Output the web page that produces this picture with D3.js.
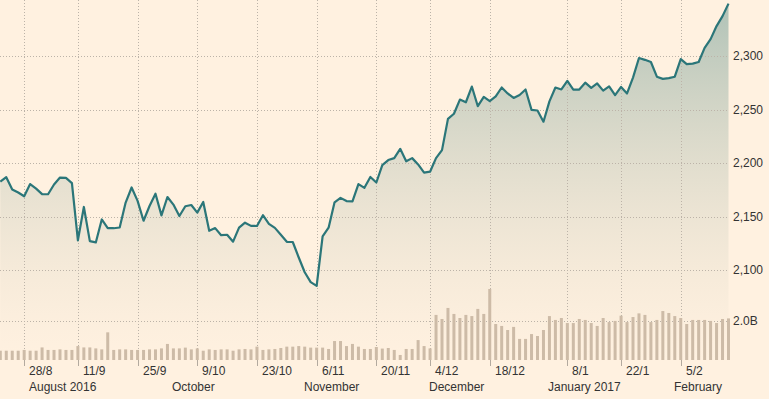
<!DOCTYPE html>
<html>
<head>
<meta charset="utf-8">
<script src="https://cdn.jsdelivr.net/npm/d3@7"></script>
<style>
  html, body { margin: 0; padding: 0; background: #fff1e0; }
  svg { display: block; font-family: Arial, "Liberation Sans", sans-serif; }
</style>
</head>
<body>
<svg id="chart" width="769" height="399"></svg>
<script>
// trading days shown on the chart
var dates = [
  "2016-08-22","2016-08-23","2016-08-24","2016-08-25","2016-08-26","2016-08-29","2016-08-30","2016-08-31",
  "2016-09-01","2016-09-02","2016-09-06","2016-09-07","2016-09-08","2016-09-09","2016-09-12","2016-09-13","2016-09-14","2016-09-15","2016-09-16","2016-09-19","2016-09-20","2016-09-21","2016-09-22","2016-09-23","2016-09-26","2016-09-27","2016-09-28","2016-09-29","2016-09-30",
  "2016-10-03","2016-10-04","2016-10-05","2016-10-06","2016-10-07","2016-10-10","2016-10-11","2016-10-12","2016-10-13","2016-10-14","2016-10-17","2016-10-18","2016-10-19","2016-10-20","2016-10-21","2016-10-24","2016-10-25","2016-10-26","2016-10-27","2016-10-28","2016-10-31",
  "2016-11-01","2016-11-02","2016-11-03","2016-11-04","2016-11-07","2016-11-08","2016-11-09","2016-11-10","2016-11-11","2016-11-14","2016-11-15","2016-11-16","2016-11-17","2016-11-18","2016-11-21","2016-11-22","2016-11-23","2016-11-25","2016-11-28","2016-11-29","2016-11-30",
  "2016-12-01","2016-12-02","2016-12-05","2016-12-06","2016-12-07","2016-12-08","2016-12-09","2016-12-12","2016-12-13","2016-12-14","2016-12-15","2016-12-16","2016-12-19","2016-12-20","2016-12-21","2016-12-22","2016-12-23","2016-12-27","2016-12-28","2016-12-29","2016-12-30",
  "2017-01-03","2017-01-04","2017-01-05","2017-01-06","2017-01-09","2017-01-10","2017-01-11","2017-01-12","2017-01-13","2017-01-17","2017-01-18","2017-01-19","2017-01-20","2017-01-23","2017-01-24","2017-01-25","2017-01-26","2017-01-27","2017-01-30","2017-01-31",
  "2017-02-01","2017-02-02","2017-02-03","2017-02-06","2017-02-07","2017-02-08","2017-02-09","2017-02-10","2017-02-13","2017-02-14","2017-02-15"
];

var closes = [
  2182.6, 2186.9, 2175.4, 2172.5, 2169.0, 2180.4, 2176.1, 2171.0,
  2170.9, 2180.0, 2186.5, 2186.2, 2181.3, 2127.8, 2159.0, 2127.0, 2125.8, 2147.3, 2139.2, 2139.1, 2139.8, 2163.1, 2177.2, 2164.7, 2146.1, 2159.9, 2171.4, 2151.1, 2168.3,
  2161.2, 2150.5, 2159.7, 2160.8, 2153.7, 2163.7, 2136.7, 2139.2, 2132.6, 2133.0, 2126.5, 2139.6, 2144.3, 2141.3, 2141.2, 2151.3, 2143.2, 2139.4, 2133.0, 2126.4, 2126.2,
  2111.7, 2097.9, 2088.7, 2085.2, 2131.5, 2139.6, 2163.3, 2167.5, 2164.5, 2164.2, 2180.4, 2176.9, 2187.1, 2181.9, 2198.2, 2202.9, 2204.7, 2213.4, 2201.7, 2204.7, 2198.8,
  2191.1, 2192.0, 2204.7, 2212.2, 2241.4, 2246.2, 2259.5, 2257.0, 2271.7, 2253.3, 2262.0, 2258.1, 2262.5, 2270.8, 2265.2, 2261.0, 2263.8, 2268.9, 2249.9, 2249.3, 2238.8,
  2257.8, 2270.8, 2269.0, 2277.0, 2268.9, 2268.9, 2275.3, 2270.4, 2274.6, 2267.9, 2271.9, 2263.7, 2271.3, 2265.2, 2280.1, 2298.4, 2296.7, 2294.7, 2280.9, 2278.9,
  2279.6, 2280.9, 2297.4, 2292.6, 2293.1, 2294.7, 2307.9, 2316.1, 2328.3, 2337.6, 2349.3
];

// volume, billions
var volumes = [
  0.48, 0.48, 0.48, 0.48, 0.52, 0.48, 0.48, 0.65,
  0.52, 0.52, 0.55, 0.52, 0.52, 0.72, 0.65, 0.65, 0.60, 0.55, 1.43, 0.52, 0.55, 0.55, 0.52, 0.52, 0.52, 0.55, 0.55, 0.60, 0.83,
  0.60, 0.60, 0.64, 0.55, 0.60, 0.48, 0.55, 0.52, 0.55, 0.55, 0.48, 0.55, 0.57, 0.55, 0.69, 0.52, 0.55, 0.57, 0.62, 0.69, 0.69,
  0.72, 0.69, 0.64, 0.64, 0.64, 0.57, 0.98, 0.98, 0.72, 0.83, 0.69, 0.57, 0.57, 0.67, 0.59, 0.62, 0.52, 0.26, 0.57, 0.57, 1.03,
  0.72, 0.60, 2.33, 2.12, 2.69, 2.38, 2.17, 2.33, 2.27, 2.64, 2.38, 3.67, 1.86, 1.76, 1.55, 1.71, 1.09, 1.09, 1.34, 1.24, 1.55,
  2.27, 2.07, 2.17, 1.91, 1.91, 2.12, 2.07, 1.91, 1.76, 2.17, 1.96, 2.02, 2.29, 1.96, 2.22, 2.41, 2.33, 1.96, 2.07, 2.53,
  2.43, 2.27, 2.17, 1.86, 2.07, 2.07, 2.07, 2.02, 1.91, 2.12, 2.15
];

var priceTicks = [2100, 2150, 2200, 2250, 2300];
var volumeTicks = [2.0];

var dayTicks = ["2016-08-28","2016-09-11","2016-09-25","2016-10-09","2016-10-23","2016-11-06","2016-11-20","2016-12-04","2016-12-18","2017-01-08","2017-01-22","2017-02-05"];
var dayTickLabels = ["28/8","11/9","25/9","9/10","23/10","6/11","20/11","4/12","18/12","8/1","22/1","5/2"];

var monthDates = ["2016-08-28","2016-10-01","2016-11-01","2016-12-01","2017-01-01","2017-02-01"];
var monthLabels = ["August 2016","October","November","December","January 2017","February"];

var svg = d3.select("#chart");
var plotRight = 729;
var baseY = 360;

var x = d3.scalePoint().domain(dates).range([0.3, 728.5]);
var y = d3.scaleLinear().domain([2100, 2300]).range([270, 56.3]);
var yVol = d3.scaleLinear().domain([0, 2]).range([baseY, 321.3]);

// calendar date -> position of the last trading day on or before it
function at(d) {
  var i = Math.max(0, d3.bisectRight(dates, d) - 1);
  return x(dates[i]);
}

var defs = svg.append("defs");
var grad = defs.append("linearGradient")
  .attr("id", "fade")
  .attr("gradientUnits", "userSpaceOnUse")
  .attr("x1", 0).attr("y1", 0).attr("x2", 0).attr("y2", baseY);
grad.append("stop").attr("offset", 0).attr("stop-color", "#4c8783").attr("stop-opacity", 0.45);
grad.append("stop").attr("offset", 1).attr("stop-color", "#c9c2ae").attr("stop-opacity", 0);

// area under the line
var area = d3.area()
  .x(function(d, i) { return x(dates[i]); })
  .y0(baseY)
  .y1(function(d) { return y(d); });

svg.append("path")
  .datum(closes)
  .attr("d", area)
  .attr("fill", "url(#fade)");

// horizontal grid
svg.append("g").selectAll("line")
  .data(priceTicks)
  .enter().append("line")
  .attr("x1", 0).attr("x2", plotRight)
  .attr("y1", function(d) { return Math.round(y(d)) + 0.5; })
  .attr("y2", function(d) { return Math.round(y(d)) + 0.5; })
  .attr("stroke", "#bcb3a8")
  .attr("stroke-dasharray", "1,2");

svg.append("g").selectAll("line")
  .data(volumeTicks)
  .enter().append("line")
  .attr("x1", 0).attr("x2", plotRight)
  .attr("y1", function(d) { return Math.round(yVol(d)) + 0.5; })
  .attr("y2", function(d) { return Math.round(yVol(d)) + 0.5; })
  .attr("stroke", "#bcb3a8")
  .attr("stroke-dasharray", "1,2");

// vertical grid + tick marks
var vt = svg.append("g").selectAll("g")
  .data(dayTicks)
  .enter().append("g")
  .attr("transform", function(d) { return "translate(" + (Math.round(at(d)) + 0.5) + ",0)"; });
vt.append("line")
  .attr("y1", 0).attr("y2", baseY)
  .attr("stroke", "#bcb3a8")
  .attr("stroke-dasharray", "1,2");
vt.append("line")
  .attr("y1", baseY).attr("y2", baseY + 6)
  .attr("stroke", "#b3aa9f");
vt.append("text")
  .attr("x", 4.5).attr("y", 375)
  .attr("font-size", 12)
  .attr("fill", "#333")
  .text(function(d, i) { return dayTickLabels[i]; });

// volume bars
svg.append("g").selectAll("rect")
  .data(volumes)
  .enter().append("rect")
  .attr("x", function(d, i) { return x(dates[i]) - 1.5; })
  .attr("width", 3)
  .attr("y", function(d) { return yVol(d); })
  .attr("height", function(d) { return baseY - yVol(d); })
  .attr("fill", "#cdbba7");

// price line
var line = d3.line()
  .x(function(d, i) { return x(dates[i]); })
  .y(function(d) { return y(d); });

svg.append("path")
  .datum(closes)
  .attr("d", line)
  .attr("fill", "none")
  .attr("stroke", "#2b7679")
  .attr("stroke-width", 2.2)
  .attr("stroke-linejoin", "round");

// right axis labels
svg.append("g").selectAll("text")
  .data(priceTicks)
  .enter().append("text")
  .attr("x", 733).attr("y", function(d) { return y(d) + 4; })
  .attr("font-size", 12)
  .attr("fill", "#333")
  .text(d3.format(","));

svg.append("g").selectAll("text")
  .data(volumeTicks)
  .enter().append("text")
  .attr("x", 733).attr("y", function(d) { return yVol(d) + 4; })
  .attr("font-size", 12)
  .attr("fill", "#333")
  .text(function(d) { return d3.format(".1f")(d) + "B"; });

// month labels
svg.append("g").selectAll("text")
  .data(monthDates)
  .enter().append("text")
  .attr("x", function(d) { return Math.round(at(d)) + 5; })
  .attr("y", 391)
  .attr("font-size", 12)
  .attr("fill", "#333")
  .text(function(d, i) { return monthLabels[i]; });
</script>
</body>
</html>
